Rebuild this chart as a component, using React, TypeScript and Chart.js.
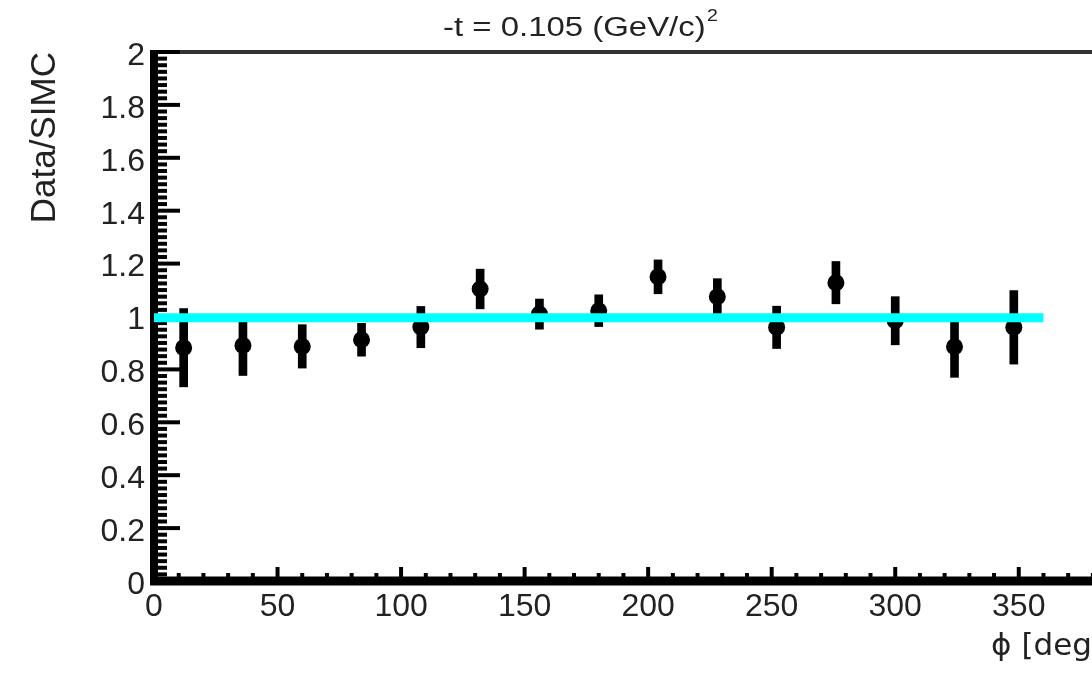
import React, { useEffect, useRef } from 'react';
import { Chart, registerables } from 'chart.js';

Chart.register(...registerables);

// ---- data ----
const phiCenters = [12, 36, 60, 84, 108, 132, 156, 180, 204, 228, 252, 276, 300, 324, 348];
const ratioValues = [0.882, 0.89, 0.887, 0.912, 0.96, 1.104, 1.009, 1.022, 1.15, 1.075, 0.959, 1.128, 0.984, 0.886, 0.959];
const ratioErrors = [0.148, 0.113, 0.082, 0.062, 0.078, 0.075, 0.057, 0.06, 0.064, 0.068, 0.08, 0.08, 0.091, 0.116, 0.139];
const fitRange = [0, 360];
const fitValue = 0.995;

const titleMain = '-t = 0.105 (GeV/c)';
const titleSup = '2';
const yTitle = 'Data/SIMC';
const xTitle = 'ϕ [deg]';

const xMin = 0;
const xMax = 384.5;
const xMajorStep = 50;
const xMinorStep = 10;
const yMin = 0;
const yMax = 2;
const yMajorStep = 0.2;
const yMinorStep = 0.025;

const FONT = '"Liberation Sans", Arial, Helvetica, sans-serif';
const WIDE_FONT = '"DejaVu Sans", "Liberation Sans", sans-serif';

const rootFrame = {
  id: 'rootFrame',
  beforeDatasetsDraw(chart: any) {
    const { ctx, chartArea, scales } = chart;
    const { left, right, top, bottom } = chartArea;
    const xs = scales.x;
    const ys = scales.y;
    ctx.save();
    // top / right frame
    ctx.strokeStyle = '#333';
    ctx.lineWidth = 4;
    ctx.beginPath();
    ctx.moveTo(left, top);
    ctx.lineTo(right, top);
    ctx.moveTo(right, top);
    ctx.lineTo(right, bottom);
    ctx.stroke();

    ctx.strokeStyle = '#000';
    // y ticks
    ctx.lineWidth = 4;
    const nY = Math.round((yMax - yMin) / yMinorStep);
    const perMajorY = Math.round(yMajorStep / yMinorStep);
    for (let i = 0; i <= nY; i++) {
      const v = yMin + i * yMinorStep;
      const py = ys.getPixelForValue(v);
      const len = i % perMajorY === 0 ? 26 : 13;
      ctx.beginPath();
      ctx.moveTo(left, py);
      ctx.lineTo(left + len, py);
      ctx.stroke();
    }
    // x ticks
    const nX = Math.floor((xMax - xMin) / xMinorStep);
    const perMajorX = Math.round(xMajorStep / xMinorStep);
    for (let i = 0; i <= nX; i++) {
      const v = xMin + i * xMinorStep;
      const px = xs.getPixelForValue(v);
      const len = i % perMajorX === 0 ? 14 : 8;
      ctx.beginPath();
      ctx.moveTo(px, bottom);
      ctx.lineTo(px, bottom - len);
      ctx.stroke();
    }
    // axes
    ctx.lineWidth = 8;
    ctx.beginPath();
    ctx.moveTo(left, top - 2);
    ctx.lineTo(left, bottom + 4);
    ctx.stroke();
    ctx.lineWidth = 9;
    ctx.beginPath();
    ctx.moveTo(left - 4, bottom);
    ctx.lineTo(right, bottom);
    ctx.stroke();
    ctx.restore();
  },
  afterDraw(chart: any) {
    const { ctx } = chart;
    ctx.save();
    ctx.fillStyle = '#222';
    ctx.textBaseline = 'alphabetic';
    ctx.textAlign = 'left';
    ctx.translate(443, 36);
    ctx.scale(1.22, 1);
    ctx.font = `27px ${FONT}`;
    ctx.fillText(titleMain, 0, 0);
    const w = ctx.measureText(titleMain).width;
    ctx.font = `16px ${FONT}`;
    ctx.fillText(titleSup, w + 1, -15);
    ctx.restore();
  },
};

const fmtY = (v: any) => String(Number(Number(v).toFixed(3)));

export default function App() {
  const canvasRef = useRef<HTMLCanvasElement | null>(null);

  useEffect(() => {
    const canvas = canvasRef.current;
    if (!canvas) return;
    Chart.defaults.font.family = FONT;
    const chart = new Chart(canvas, {
      type: 'scatter',
      data: {
        datasets: [
          {
            type: 'line',
            data: fitRange.map((x) => ({ x, y: fitValue })),
            borderColor: '#00ffff',
            backgroundColor: '#00ffff',
            borderWidth: 9,
            pointRadius: 0,
            showLine: true,
            fill: false,
            order: 0,
          } as any,
          {
            type: 'scatter',
            data: phiCenters.map((x, i) => ({ x, y: ratioValues[i] })),
            backgroundColor: '#000',
            borderColor: '#000',
            borderWidth: 0,
            pointRadius: 8.5,
            order: 1,
          } as any,
          {
            type: 'bar',
            data: phiCenters.map((x, i) => ({ x, y: [ratioValues[i] - ratioErrors[i], ratioValues[i] + ratioErrors[i]] })),
            backgroundColor: '#000',
            borderWidth: 0,
            barThickness: 8,
            grouped: false,
            order: 2,
          } as any,
        ],
      },
      options: {
        responsive: false,
        animation: false,
        events: [],
        layout: { padding: { left: 0, right: 96, top: 52, bottom: 0 } },
        plugins: {
          legend: { display: false },
          tooltip: { enabled: false },
          title: { display: false },
        },
        scales: {
          x: {
            type: 'linear',
            min: xMin,
            max: xMax,
            offset: false,
            grid: { display: false, drawTicks: false },
            border: { display: false },
            ticks: {
              stepSize: xMajorStep,
              includeBounds: false,
              autoSkip: false,
              maxRotation: 0,
              padding: 7,
              color: '#222',
              font: { size: 32, family: FONT },
            },
            title: {
              display: true,
              text: xTitle,
              align: 'end',
              color: '#222',
              font: { size: 31, family: WIDE_FONT },
              padding: { top: 0, bottom: 9 },
            },
            afterFit: (s: any) => {
              s.height = 94;
            },
          },
          y: {
            type: 'linear',
            min: yMin,
            max: yMax,
            grid: { display: false, drawTicks: false },
            border: { display: false },
            ticks: {
              stepSize: yMajorStep,
              autoSkip: false,
              padding: 9,
              labelOffset: 4,
              color: '#222',
              font: { size: 32, family: FONT },
              callback: fmtY,
            },
            title: {
              display: true,
              text: yTitle,
              align: 'end',
              color: '#222',
              font: { size: 35, family: FONT },
              padding: { top: 24, bottom: 0 },
            },
            afterFit: (s: any) => {
              s.width = 154;
            },
          },
        },
      } as any,
      plugins: [rootFrame],
    });
    return () => chart.destroy();
  }, []);

  return (
    <div style={{ position: 'fixed', left: 0, top: 0, width: '100vw', height: '100vh', overflow: 'hidden', background: '#fff' }}>
      <canvas ref={canvasRef} width={1200} height={675} style={{ display: 'block', width: 1200, height: 675 }} />
    </div>
  );
}
